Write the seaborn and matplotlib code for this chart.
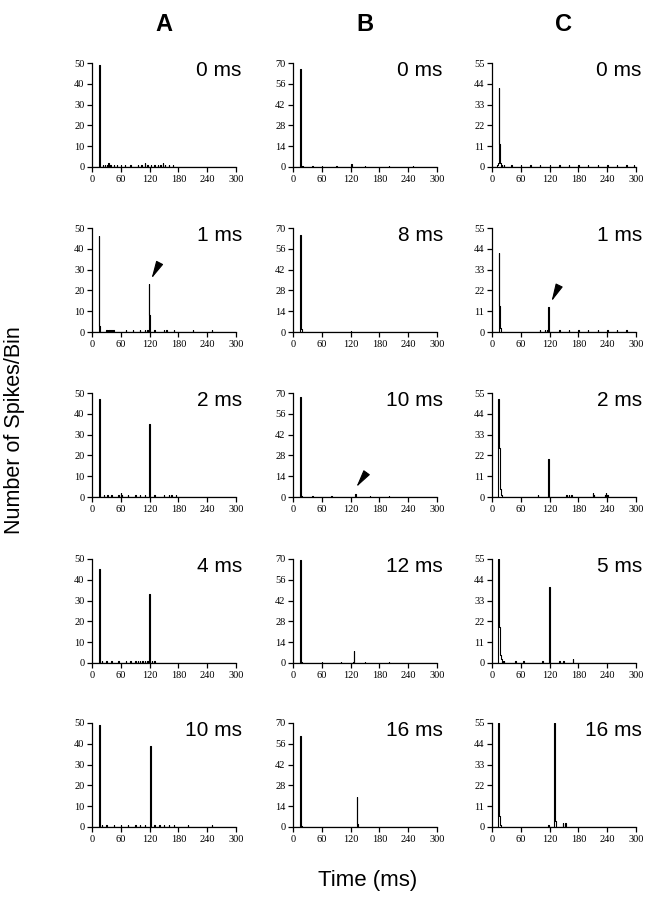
import numpy as np
import pandas as pd
import matplotlib
matplotlib.use("Agg")
import matplotlib.pyplot as plt
import seaborn as sns

# ---------------- data (time bin in ms, spikes per bin) ----------------
col_headers = ["A", "B", "C"]
x_ticks = [0, 60, 120, 180, 240, 300]
y_ticks_A = [0, 10, 20, 30, 40, 50]
y_ticks_B = [0, 14, 28, 42, 56, 70]
y_ticks_C = [0, 11, 22, 33, 44, 55]

labels_A = ["0 ms", "1 ms", "2 ms", "4 ms", "10 ms"]
labels_B = ["0 ms", "8 ms", "10 ms", "12 ms", "16 ms"]
labels_C = ["0 ms", "1 ms", "2 ms", "5 ms", "16 ms"]

# Column A
A0_t = [15, 16, 22, 27, 31, 34, 38, 45, 52, 60, 68, 80, 95, 103, 110, 115, 122, 130, 137, 142, 147, 152, 160, 168]
A0_n = [49, 2, 1, 1, 1, 2, 1, 1, 1, 1, 1, 1, 1, 1, 2, 1, 1, 1, 1, 1, 2, 1, 1, 1]
A1_t = [14, 15, 16, 30, 33, 36, 40, 44, 70, 85, 100, 110, 115, 118, 119, 120, 130, 150, 155, 170, 210, 250]
A1_n = [46, 3, 1, 1, 1, 1, 1, 1, 1, 1, 1, 1, 1, 23, 8, 1, 1, 1, 1, 1, 1, 1]
A2_t = [15, 16, 25, 32, 40, 55, 60, 62, 75, 90, 100, 110, 119, 120, 130, 150, 160, 165, 175]
A2_n = [47, 2, 1, 1, 1, 1, 2, 1, 1, 1, 1, 1, 35, 3, 1, 1, 1, 1, 1]
A3_t = [15, 16, 20, 30, 40, 55, 70, 80, 90, 95, 100, 105, 110, 115, 119, 120, 125, 130]
A3_n = [45, 2, 1, 1, 1, 1, 1, 1, 1, 1, 1, 1, 1, 1, 33, 2, 1, 1]
A4_t = [15, 16, 20, 30, 45, 60, 75, 90, 100, 110, 121, 122, 130, 140, 150, 160, 170, 200, 250]
A4_n = [49, 2, 1, 1, 1, 1, 1, 1, 1, 1, 39, 2, 1, 1, 1, 1, 1, 1, 1]

# Column B
B0_t = [15, 16, 17, 20, 40, 60, 90, 120, 121, 150, 200, 250]
B0_n = [66, 3, 1, 1, 1, 1, 1, 1, 2, 1, 1, 1]
B1_t = [15, 16, 17, 120]
B1_n = [65, 4, 2, 1]
B2_t = [15, 16, 17, 40, 80, 130, 131, 160, 200]
B2_n = [67, 4, 1, 1, 1, 2, 1, 1, 1]
B3_t = [15, 16, 17, 60, 100, 126, 127, 150, 200]
B3_n = [69, 3, 1, 1, 1, 1, 8, 1, 1]
B4_t = [15, 16, 17, 133, 134, 135]
B4_n = [61, 3, 1, 20, 2, 1]

# Column C
C0_t = [10, 11, 12, 13, 14, 15, 16, 17, 18, 20, 25, 40, 60, 80, 100, 120, 140, 160, 180, 200, 220, 240, 260, 280, 295]
C0_n = [1, 1, 2, 2, 42, 12, 3, 2, 1, 1, 1, 1, 1, 1, 1, 1, 1, 1, 1, 1, 1, 1, 1, 1, 1]
C1_t = [14, 15, 16, 17, 100, 110, 115, 117, 118, 140, 160, 180, 200, 220, 240, 260, 280]
C1_n = [42, 14, 4, 2, 1, 1, 1, 13, 4, 1, 1, 1, 1, 1, 1, 1, 1]
C2_t = [13, 14, 15, 16, 17, 18, 19, 20, 95, 117, 118, 155, 160, 165, 210, 212, 235, 237, 240]
C2_n = [52, 38, 26, 5, 4, 2, 1, 1, 1, 20, 2, 1, 1, 1, 2, 1, 1, 2, 1]
C3_t = [13, 14, 15, 16, 17, 18, 19, 20, 22, 25, 48, 49, 65, 105, 119, 120, 140, 148, 168]
C3_n = [55, 30, 19, 6, 4, 3, 2, 2, 1, 1, 1, 1, 1, 1, 40, 7, 1, 1, 2]
C4_t = [13, 14, 15, 16, 17, 117, 130, 131, 132, 133, 147, 153]
C4_n = [55, 27, 6, 2, 1, 1, 55, 19, 3, 1, 2, 2]

# arrow annotations
arrow_rows = [1, 1, 2]
arrow_cols = [0, 2, 1]
arrow_tip_t = [124, 124, 132]
arrow_tip_n = [25.7, 16.2, 6.7]
arrow_tail_t = [139, 138, 153]
arrow_tail_n = [32.4, 23.6, 16.2]

panels = [
    [(A0_t, A0_n), (B0_t, B0_n), (C0_t, C0_n)],
    [(A1_t, A1_n), (B1_t, B1_n), (C1_t, C1_n)],
    [(A2_t, A2_n), (B2_t, B2_n), (C2_t, C2_n)],
    [(A3_t, A3_n), (B3_t, B3_n), (C3_t, C3_n)],
    [(A4_t, A4_n), (B4_t, B4_n), (C4_t, C4_n)],
]
labels = [labels_A, labels_B, labels_C]
yticks = [y_ticks_A, y_ticks_B, y_ticks_C]

# ---------------- styling ----------------
sns.set_style("ticks")
plt.rcParams["font.family"] = ["Liberation Sans", "DejaVu Sans"]
plt.rcParams["text.color"] = "black"
plt.rcParams["axes.labelcolor"] = "black"
plt.rcParams["xtick.color"] = "black"
plt.rcParams["ytick.color"] = "black"

W, H = 649, 899
fig = plt.figure(figsize=(W / 100, H / 100), dpi=100)

col_left_px = [92, 293, 492]
col_width_px = 144
row_top_px = [63, 228, 393, 559, 723]
row_height_px = 104

axes = {}
for r in range(5):
    for c in range(3):
        left = col_left_px[c] / W
        bottom = 1 - (row_top_px[r] + row_height_px) / H
        ax = fig.add_axes([left, bottom, col_width_px / W, row_height_px / H])
        axes[(r, c)] = ax
        t, n = panels[r][c]
        df = pd.DataFrame({"t": np.asarray(t, float), "n": np.asarray(n, float)})
        sns.histplot(data=df, x="t", weights="n", binwidth=1, binrange=(0, 300),
                     element="step", fill=False, color="black", linewidth=0.8,
                     ax=ax)
        ax.set_xlim(0, 300)
        ax.set_ylim(0, yticks[c][-1])
        ax.set_xticks(x_ticks)
        ax.set_yticks(yticks[c])
        ax.set_xlabel("")
        ax.set_ylabel("")
        sns.despine(ax=ax)
        for s in ["left", "bottom"]:
            ax.spines[s].set_linewidth(0.9)
            ax.spines[s].set_color("black")
        ax.tick_params(direction="out", length=3.5, width=0.9, colors="black",
                       labelcolor="black", pad=2, labelsize=7.5)
        for lab in ax.get_xticklabels() + ax.get_yticklabels():
            lab.set_family(["Liberation Serif", "DejaVu Serif"])
        ax.text(1.04, 0.875, labels[c][r], transform=ax.transAxes,
                ha="right", va="baseline", fontsize=15, color="black")
        ax.patch.set_alpha(0)

for i in range(len(arrow_rows)):
    ax = axes[(arrow_rows[i], arrow_cols[i])]
    ax.annotate("", xy=(arrow_tip_t[i], arrow_tip_n[i]),
                xytext=(arrow_tail_t[i], arrow_tail_n[i]),
                arrowprops=dict(arrowstyle="-|>,head_length=0.9,head_width=0.2",
                                color="black", lw=0.8, shrinkA=0, shrinkB=0,
                                mutation_scale=12))

# column headers
for c in range(3):
    xc = (col_left_px[c] + col_width_px / 2) / W
    fig.text(xc, 1 - 31 / H, col_headers[c], ha="center", va="baseline",
             fontsize=17, fontweight="bold", color="black")

fig.text(368 / W, 1 - 886 / H, "Time (ms)",
         ha="center", va="baseline", fontsize=16, color="black")
fig.text(15 / W, 1 - 430 / H, "Number of Spikes/Bin", rotation=90,
         ha="center", va="center", fontsize=15.5, color="black")

fig.savefig("out.png", dpi=100)
